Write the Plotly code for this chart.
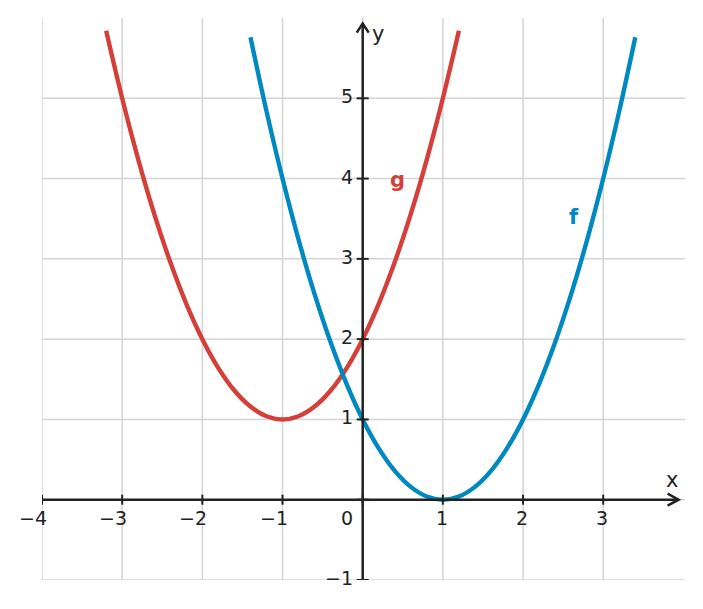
import plotly.graph_objects as go

# ---- data ----
f_x = [-1.4, -1.2, -1.0, -0.8, -0.6, -0.4, -0.2, 0.0, 0.2, 0.4, 0.6, 0.8, 1.0,
       1.2, 1.4, 1.6, 1.8, 2.0, 2.2, 2.4, 2.6, 2.8, 3.0, 3.2, 3.4]
f_y = [5.76, 4.84, 4.0, 3.24, 2.56, 1.96, 1.44, 1.0, 0.64, 0.36, 0.16, 0.04, 0.0,
       0.04, 0.16, 0.36, 0.64, 1.0, 1.44, 1.96, 2.56, 3.24, 4.0, 4.84, 5.76]
g_x = [-3.2, -3.0, -2.8, -2.6, -2.4, -2.2, -2.0, -1.8, -1.6, -1.4, -1.2, -1.0,
       -0.8, -0.6, -0.4, -0.2, 0.0, 0.2, 0.4, 0.6, 0.8, 1.0, 1.2]
g_y = [5.84, 5.0, 4.24, 3.56, 2.96, 2.44, 2.0, 1.64, 1.36, 1.16, 1.04, 1.0,
       1.04, 1.16, 1.36, 1.64, 2.0, 2.44, 2.96, 3.56, 4.24, 5.0, 5.84]
x_ticks = [-4, -3, -2, -1, 0, 1, 2, 3]
y_ticks = [-1, 0, 1, 2, 3, 4, 5]
x_tick_labels = ["−4", "−3", "−2", "−1", "0", "1", "2", "3"]
y_tick_labels = ["−1", "", "1", "2", "3", "4", "5"]

X_RANGE = [-4, 4.02]
Y_RANGE = [-1, 6]

RED = "#d43f3a"
BLUE = "#0088c0"
AXIS = "#222222"
GRID = "#d4d4d4"
FONT = "DejaVu Sans"

fig = go.Figure()
fig.add_trace(go.Scatter(x=g_x, y=g_y, mode="lines", line=dict(color=RED, width=4.4, shape="spline"),
                         hoverinfo="skip", showlegend=False))
fig.add_trace(go.Scatter(x=f_x, y=f_y, mode="lines", line=dict(color=BLUE, width=4.4, shape="spline"),
                         hoverinfo="skip", showlegend=False))

shapes = []
# grid
for xv in x_ticks:
    shapes.append(dict(type="line", xref="x", yref="y", x0=xv, x1=xv, y0=Y_RANGE[0], y1=Y_RANGE[1],
                       line=dict(color=GRID, width=1.5), layer="below"))
for yv in y_ticks:
    shapes.append(dict(type="line", xref="x", yref="y", x0=X_RANGE[0], x1=X_RANGE[1], y0=yv, y1=yv,
                       line=dict(color=GRID, width=1.5), layer="below"))
# axes
shapes.append(dict(type="line", xref="x", yref="y", x0=-4, x1=3.94, y0=0, y1=0,
                   line=dict(color=AXIS, width=2.5), layer="above"))
shapes.append(dict(type="line", xref="x", yref="y", x0=0, x1=0, y0=-1, y1=5.93,
                   line=dict(color=AXIS, width=2.5), layer="above"))
# arrowheads (pixel-sized, anchored at axis ends)
shapes.append(dict(type="path", xref="x", yref="y", xsizemode="pixel", ysizemode="pixel",
                   xanchor=3.94, yanchor=0, path="M -11 6 L 0 0 L -11 -6",
                   line=dict(color=AXIS, width=2.5), layer="above"))
shapes.append(dict(type="path", xref="x", yref="y", xsizemode="pixel", ysizemode="pixel",
                   xanchor=0, yanchor=5.93, path="M -6 -9 L 0 0 L 6 -9",
                   line=dict(color=AXIS, width=2.5), layer="above"))
# ticks
for xv in x_ticks:
    shapes.append(dict(type="line", xref="x", yref="y", ysizemode="pixel", yanchor=0,
                       x0=xv, x1=xv, y0=-5, y1=5, line=dict(color=AXIS, width=2), layer="above"))
for yv in y_ticks:
    shapes.append(dict(type="line", xref="x", yref="y", xsizemode="pixel", xanchor=0,
                       y0=yv, y1=yv, x0=-6, x1=6, line=dict(color=AXIS, width=2), layer="above"))

ann = []
for xv, t in zip(x_ticks, x_tick_labels):
    if xv == 0:
        ann.append(dict(x=xv, y=0, xref="x", yref="y", text=t, showarrow=False, xanchor="right",
                        yanchor="middle", xshift=-8, yshift=-18, font=dict(size=19, color=AXIS, family=FONT)))
    else:
        ann.append(dict(x=xv, y=0, xref="x", yref="y", text=t, showarrow=False, xanchor="right",
                        yanchor="middle", xshift=7, yshift=-18, font=dict(size=19, color=AXIS, family=FONT)))
for yv, t in zip(y_ticks, y_tick_labels):
    if t:
        ann.append(dict(x=0, y=yv, xref="x", yref="y", text=t, showarrow=False, xanchor="right",
                        yanchor="middle", xshift=-8, yshift=2, font=dict(size=19, color=AXIS, family=FONT)))
ann.append(dict(x=3.86, y=0.24, xref="x", yref="y", text="x", showarrow=False, xanchor="center",
                yanchor="middle", font=dict(size=21, color=AXIS, family=FONT)))
ann.append(dict(x=0.19, y=5.8, xref="x", yref="y", text="y", showarrow=False, xanchor="center",
                yanchor="middle", font=dict(size=21, color=AXIS, family=FONT)))
ann.append(dict(x=0.43, y=3.98, xref="x", yref="y", text="<b>g</b>", showarrow=False, xanchor="center",
                yanchor="middle", font=dict(size=21, color=RED, family=FONT)))
ann.append(dict(x=2.64, y=3.52, xref="x", yref="y", text="<b>f</b>", showarrow=False, xanchor="center",
                yanchor="middle", font=dict(size=21, color=BLUE, family=FONT)))

fig.update_layout(
    width=703, height=609,
    margin=dict(l=42, r=18, t=18, b=29),
    paper_bgcolor="white", plot_bgcolor="white",
    xaxis=dict(range=X_RANGE, showgrid=False, zeroline=False, showticklabels=False, ticks="",
               fixedrange=True),
    yaxis=dict(range=Y_RANGE, showgrid=False, zeroline=False, showticklabels=False, ticks="",
               fixedrange=True),
    shapes=shapes, annotations=ann, font=dict(family=FONT),
)
fig.write_html("out.html", config={"displayModeBar": False})
